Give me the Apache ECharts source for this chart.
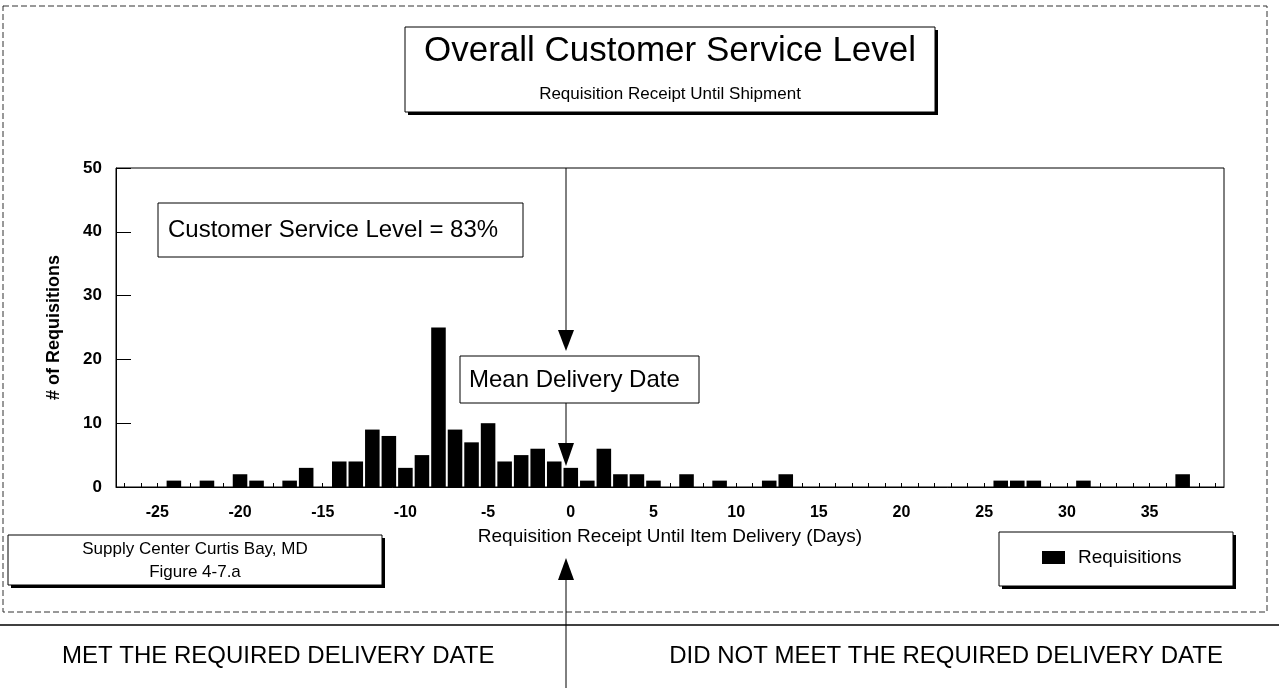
<!DOCTYPE html>
<html>
<head>
<meta charset="utf-8">
<title>Overall Customer Service Level</title>
<script src="https://cdn.jsdelivr.net/npm/echarts@6.0.0/dist/echarts.min.js"></script>
<style>
html, body { margin: 0; padding: 0; background: #fff; }
#chart { width: 1279px; height: 688px; }
</style>
</head>
<body>
<div id="chart"></div>
<script>
// days from requisition receipt until item delivery
var days = ['-27', '-26', '-25', '-24', '-23', '-22', '-21', '-20', '-19', '-18',
    '-17', '-16', '-15', '-14', '-13', '-12', '-11', '-10', '-9', '-8',
    '-7', '-6', '-5', '-4', '-3', '-2', '-1', '0', '1', '2',
    '3', '4', '5', '6', '7', '8', '9', '10', '11', '12',
    '13', '14', '15', '16', '17', '18', '19', '20', '21', '22',
    '23', '24', '25', '26', '27', '28', '29', '30', '31', '32',
    '33', '34', '35', '36', '37', '38', '39'];

// # of requisitions per day
var requisitions = [0, 0, 0, 1, 0, 1, 0, 2, 1, 0,
    1, 3, 0, 4, 4, 9, 8, 3, 5, 25,
    9, 7, 10, 4, 5, 6, 4, 3, 1, 6,
    2, 2, 1, 0, 2, 0, 1, 0, 0, 1,
    2, 0, 0, 0, 0, 0, 0, 0, 0, 0,
    0, 0, 0, 1, 1, 1, 0, 0, 1, 0,
    0, 0, 0, 0, 2, 0, 0];

var yTicks = [0, 10, 20, 30, 40, 50];

var FONT = '"Liberation Sans", Arial, sans-serif';

function box (x, y, w, h, shadow) {
    var els = [];
    if (shadow) {
        els.push({
            type: 'rect', z: 100,
            shape: { x: x + 3, y: y + 3, width: w, height: h },
            style: { fill: '#000' }
        });
    }
    els.push({
        type: 'rect', z: 101,
        shape: { x: x, y: y, width: w, height: h },
        style: { fill: '#fff', stroke: '#000', lineWidth: 1 }
    });
    return els;
}

function label (txt, x, y, size, align, weight) {
    return {
        type: 'text', z: 102,
        style: {
            text: txt, x: x, y: y,
            font: (weight || 'normal') + ' ' + size + 'px ' + FONT,
            fill: '#000',
            align: align, verticalAlign: 'middle',
            textAlign: align, textVerticalAlign: 'middle'
        }
    };
}

function arrow (x, y1, y2, tipY, baseY) {
    return [{
        type: 'line', z: 100,
        shape: { x1: x, y1: y1, x2: x, y2: y2 },
        style: { stroke: '#000', lineWidth: 1 }
    }, {
        type: 'polygon', z: 100,
        shape: { points: [[x - 8, baseY], [x + 8, baseY], [x, tipY]] },
        style: { fill: '#000' }
    }];
}

var graphics = [];
graphics.push({
    type: 'rect', z: 99,
    shape: { x: 3, y: 6, width: 1264, height: 606 },
    style: { fill: null, stroke: '#333', lineWidth: 1, lineDash: [6, 3] }
});
graphics.push({
    type: 'line', z: 99,
    shape: { x1: 0, y1: 625, x2: 1279, y2: 625 },
    style: { stroke: '#000', lineWidth: 1.5 }
});
graphics = graphics.concat(box(405, 27, 530, 85, true));
graphics.push(label('Overall Customer Service Level', 670, 51, 35, 'center'));
graphics.push(label('Requisition Receipt Until Shipment', 670, 94, 17, 'center'));

graphics = graphics.concat(box(158, 203, 365, 54, false));
graphics.push(label('Customer Service Level = 83%', 168, 230, 24, 'left'));

graphics = graphics.concat(arrow(566, 168, 331, 351, 330));
graphics = graphics.concat(box(460, 356, 239, 47, false));
graphics.push(label('Mean Delivery Date', 469, 380, 24, 'left'));
graphics = graphics.concat(arrow(566, 403, 444, 466, 443));

graphics = graphics.concat(box(8, 535, 374, 50, true));
graphics.push(label('Supply Center Curtis Bay, MD', 195, 549, 17, 'center'));
graphics.push(label('Figure 4-7.a', 195, 572, 17, 'center'));

// legend frame
graphics = graphics.concat(box(999, 532, 234, 54, true));

graphics = graphics.concat(arrow(566, 580, 688, 558, 580));
graphics.push(label('MET THE REQUIRED DELIVERY DATE', 62, 656, 24, 'left'));
graphics.push(label('DID NOT MEET THE REQUIRED DELIVERY DATE', 1223, 656, 24, 'right'));

var option = {
    animation: false,
    backgroundColor: '#fff',
    textStyle: { fontFamily: FONT, color: '#000' },
    grid: {
        left: 116,
        right: 55,
        top: 168,
        bottom: 201,
        show: true,
        borderColor: '#000',
        borderWidth: 1,
        backgroundColor: 'transparent'
    },
    legend: {
        data: ['Requisitions'],
        z: 120,
        left: 1042,
        top: 548,
        orient: 'horizontal',
        icon: 'rect',
        itemWidth: 23,
        itemHeight: 13,
        padding: 0,
        textStyle: {
            fontFamily: FONT,
            fontSize: 19,
            color: '#000',
            padding: [0, 0, 0, 8]
        }
    },
    xAxis: [{
        type: 'category',
        data: days,
        boundaryGap: true,
        name: 'Requisition Receipt Until Item Delivery (Days)',
        nameLocation: 'middle',
        nameGap: 40,
        nameTextStyle: { fontFamily: FONT, fontSize: 19, color: '#000' },
        axisLine: { lineStyle: { color: '#000', width: 1 } },
        axisTick: {
            show: true,
            inside: true,
            length: 4,
            alignWithLabel: true,
            interval: 0,
            lineStyle: { color: '#000' }
        },
        axisLabel: {
            margin: 18,
            fontFamily: FONT,
            fontSize: 16,
            fontWeight: 'bold',
            color: '#000',
            interval: function (index, value) {
                return Number(value) % 5 === 0;
            }
        },
        splitLine: { show: false }
    }],
    yAxis: [{
        type: 'value',
        min: yTicks[0],
        max: yTicks[yTicks.length - 1],
        interval: yTicks[1] - yTicks[0],
        name: '# of Requisitions',
        nameLocation: 'middle',
        nameGap: 53,
        nameTextStyle: { fontFamily: FONT, fontSize: 18, fontWeight: 'bold', color: '#000' },
        axisLine: { show: true, lineStyle: { color: '#000', width: 1 } },
        axisTick: { show: true, inside: true, length: 15, lineStyle: { color: '#000' } },
        axisLabel: {
            margin: 14,
            fontFamily: FONT,
            fontSize: 17,
            fontWeight: 'bold',
            color: '#000'
        },
        splitLine: { show: false }
    }],
    series: [{
        name: 'Requisitions',
        type: 'bar',
        data: requisitions,
        barCategoryGap: '12%',
        itemStyle: { color: '#000' }
    }],
    graphic: graphics
};

var chart = echarts.init(document.getElementById('chart'));
chart.setOption(option);
</script>
</body>
</html>
